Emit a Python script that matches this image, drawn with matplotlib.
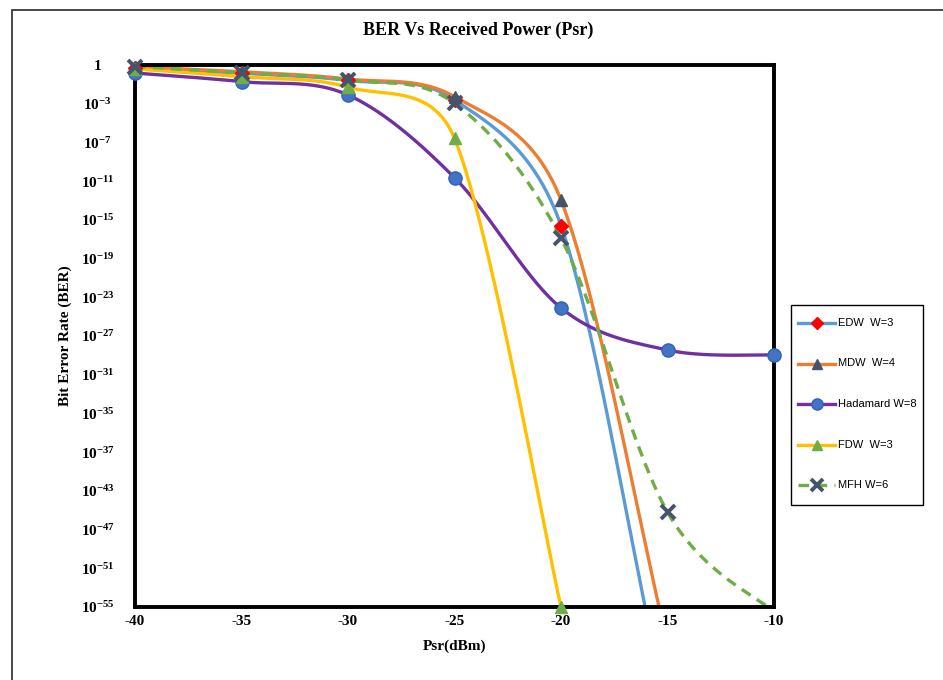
import numpy as np
import matplotlib
matplotlib.use("Agg")
import matplotlib.pyplot as plt
from matplotlib.lines import Line2D
from matplotlib.patches import Rectangle

plt.rcParams['font.family'] = ['Liberation Serif', 'DejaVu Serif']
plt.rcParams['mathtext.fontset'] = 'custom'
plt.rcParams['mathtext.rm'] = 'Liberation Serif:bold'
plt.rcParams['mathtext.it'] = 'Liberation Serif:bold:italic'
plt.rcParams['mathtext.bf'] = 'Liberation Serif:bold'
plt.rcParams['axes.unicode_minus'] = False

# received power (dBm) and log10(BER) for each code
psr = [-40, -35, -30, -25, -20, -15, -10]
edw_log = [0.7, 0.15, -0.6, -2.6, -15.6, -65.8, -110.0]
mdw_log = [0.8, 0.3, -0.45, -2.27, -12.95, -58.9, -108.8]
hadamard_log = [0.17, -0.72, -2.1, -10.64, -24.1, -28.45, -28.97]
fdw_log = [0.59, -0.21, -1.3, -6.58, -55.0]
mfh_log = [0.82, 0.2, -0.55, -2.96, -16.9, -45.2, -55.5]

labels = ['EDW  W=3', 'MDW  W=4', 'Hadamard W=8', 'FDW  W=3', 'MFH W=6']
ytick_labels = ['1', '10^{-3}', '10^{-7}', '10^{-11}', '10^{-15}', '10^{-19}',
                '10^{-23}', '10^{-27}', '10^{-31}', '10^{-35}', '10^{-37}',
                '10^{-43}', '10^{-47}', '10^{-51}', '10^{-55}']
xticks = [-40, -35, -30, -25, -20, -15, -10]

Y_TOP, Y_BOTTOM = 1, -55
W, H = 943, 680
AX_W, AX_H = 639, 542   # plot area in pixels


def smooth(xs, ys, n=80):
    # bezier smoothing done in screen units, tangent length capped at half
    # the segment length so steep drops don't overshoot
    sx = AX_W / 30
    sy = AX_H / (Y_TOP - Y_BOTTOM)
    pts = np.column_stack([np.array(xs) * sx, np.array(ys) * sy]).astype(float)
    padded = np.vstack([pts[0], pts, pts[-1]])
    t = np.linspace(0, 1, n)[:, None]
    f = 1 / 6
    out = []
    for i in range(len(pts) - 1):
        p0, p1, p2, p3 = padded[i], padded[i + 1], padded[i + 2], padded[i + 3]
        d12 = np.hypot(*(p2 - p1))
        d02 = np.hypot(*(p2 - p0))
        d13 = np.hypot(*(p3 - p1))
        f1 = d12 / (2 * d02) if f * d02 > d12 / 2 else f
        f2 = d12 / (2 * d13) if f * d13 > d12 / 2 else f
        c1 = p1 + f1 * (p2 - p0)
        c2 = p2 - f2 * (p3 - p1)
        seg = ((1 - t) ** 3 * p1 + 3 * (1 - t) ** 2 * t * c1
               + 3 * (1 - t) * t ** 2 * c2 + t ** 3 * p2)
        out.append(seg)
    curve = np.vstack(out)
    return curve[:, 0] / sx, curve[:, 1] / sy


series = [
    (edw_log, '#5B9BD5', dict(marker='D', ms=7, mfc='#FF0000', mec='#FF0000'), '-'),
    (mdw_log, '#ED7D31', dict(marker='^', ms=9, mfc='#44546A', mec='#44546A'), '-'),
    (hadamard_log, '#7030A0', dict(marker='o', ms=9.5, mfc='#4472C4', mec='#2E64B8', mew=1), '-'),
    (fdw_log, '#FFC000', dict(marker='^', ms=9, mfc='#70AD47', mec='#70AD47'), '-'),
    (mfh_log, '#70AD47', dict(marker='x', ms=10, mfc='#44546A', mec='#44546A', mew=2.8), '--'),
]
DASHES = [3.2, 2.2]

fig = plt.figure(figsize=(W / 100, H / 100), dpi=100)
ax = fig.add_axes([135 / W, 73 / H, AX_W / W, AX_H / H])
ax.set_yscale('log')

for i, (vals, color, mk, ls) in enumerate(series):
    xs = psr[:len(vals)]
    cx, cy = smooth(xs, vals)
    line, = ax.plot(cx, 10.0 ** cy, color=color, lw=2.4, ls=ls, zorder=3 + i,
                    solid_capstyle='butt')
    if ls == '--':
        line.set_dashes(DASHES)
    vals = np.array(vals)
    keep = vals >= Y_BOTTOM
    ax.plot(np.array(xs)[keep], 10.0 ** vals[keep], ls='none', zorder=10 + i,
            clip_on=False, **mk)

ax.set_xlim(-40, -10)
ax.set_ylim(10.0 ** Y_BOTTOM, 10.0 ** Y_TOP)
ax.set_xticks(xticks)
ax.set_xticklabels([str(v) for v in xticks], fontsize=11, fontweight='bold')
yt = [10.0 ** (Y_TOP - 4 * k) for k in range(len(ytick_labels))]
ax.set_yticks(yt)
ax.set_yticklabels(['$\\mathrm{%s}$' % s for s in ytick_labels], fontsize=11,
                   ha='center')
ax.yaxis.set_minor_locator(matplotlib.ticker.NullLocator())
ax.tick_params(axis='y', length=0, pad=27)
ax.tick_params(axis='x', length=0, pad=6)

for sp in ax.spines.values():
    sp.set_linewidth(2.8)
    sp.set_color('black')
    sp.set_zorder(8)

ax.set_xlabel('Psr(dBm)', fontsize=11, fontweight='bold', labelpad=8)
ax.set_ylabel('Bit Error Rate (BER)', fontsize=11, fontweight='bold', labelpad=6)
fig.text(478 / W, 1 - 30 / H, 'BER Vs Received Power (Psr)', fontsize=13,
         fontweight='bold', ha='center', va='center')

# legend box at the right, built by hand to get the tall row spacing
fig.add_artist(Rectangle((791 / W, 1 - 505 / H), 132 / W, 200 / H,
                         transform=fig.transFigure, fill=False, ec='black',
                         lw=1.0))
for k, ((vals, color, mk, ls), text) in enumerate(zip(series, labels)):
    yy = 1 - (323 + 40.5 * k) / H
    seg = Line2D([798 / W, 835 / W], [yy, yy], transform=fig.transFigure,
                 color=color, lw=2.4, ls=ls)
    if ls == '--':
        seg.set_dashes(DASHES)
    fig.add_artist(seg)
    small = dict(mk)
    small['ms'] = mk['ms'] * 0.85
    fig.add_artist(Line2D([816.5 / W], [yy], transform=fig.transFigure,
                          ls='none', **small))
    fig.text(838 / W, yy, text, fontsize=8, family='Liberation Sans',
             ha='left', va='center')

# thin outer border of the chart area
fig.patches.append(Rectangle((12 / W, -0.1), 1.2, 1 - 10 / H + 0.1,
                             transform=fig.transFigure, fill=False,
                             ec='#3a3a3a', lw=1.3, zorder=0))

fig.savefig('out.png', dpi=100, facecolor='white')
